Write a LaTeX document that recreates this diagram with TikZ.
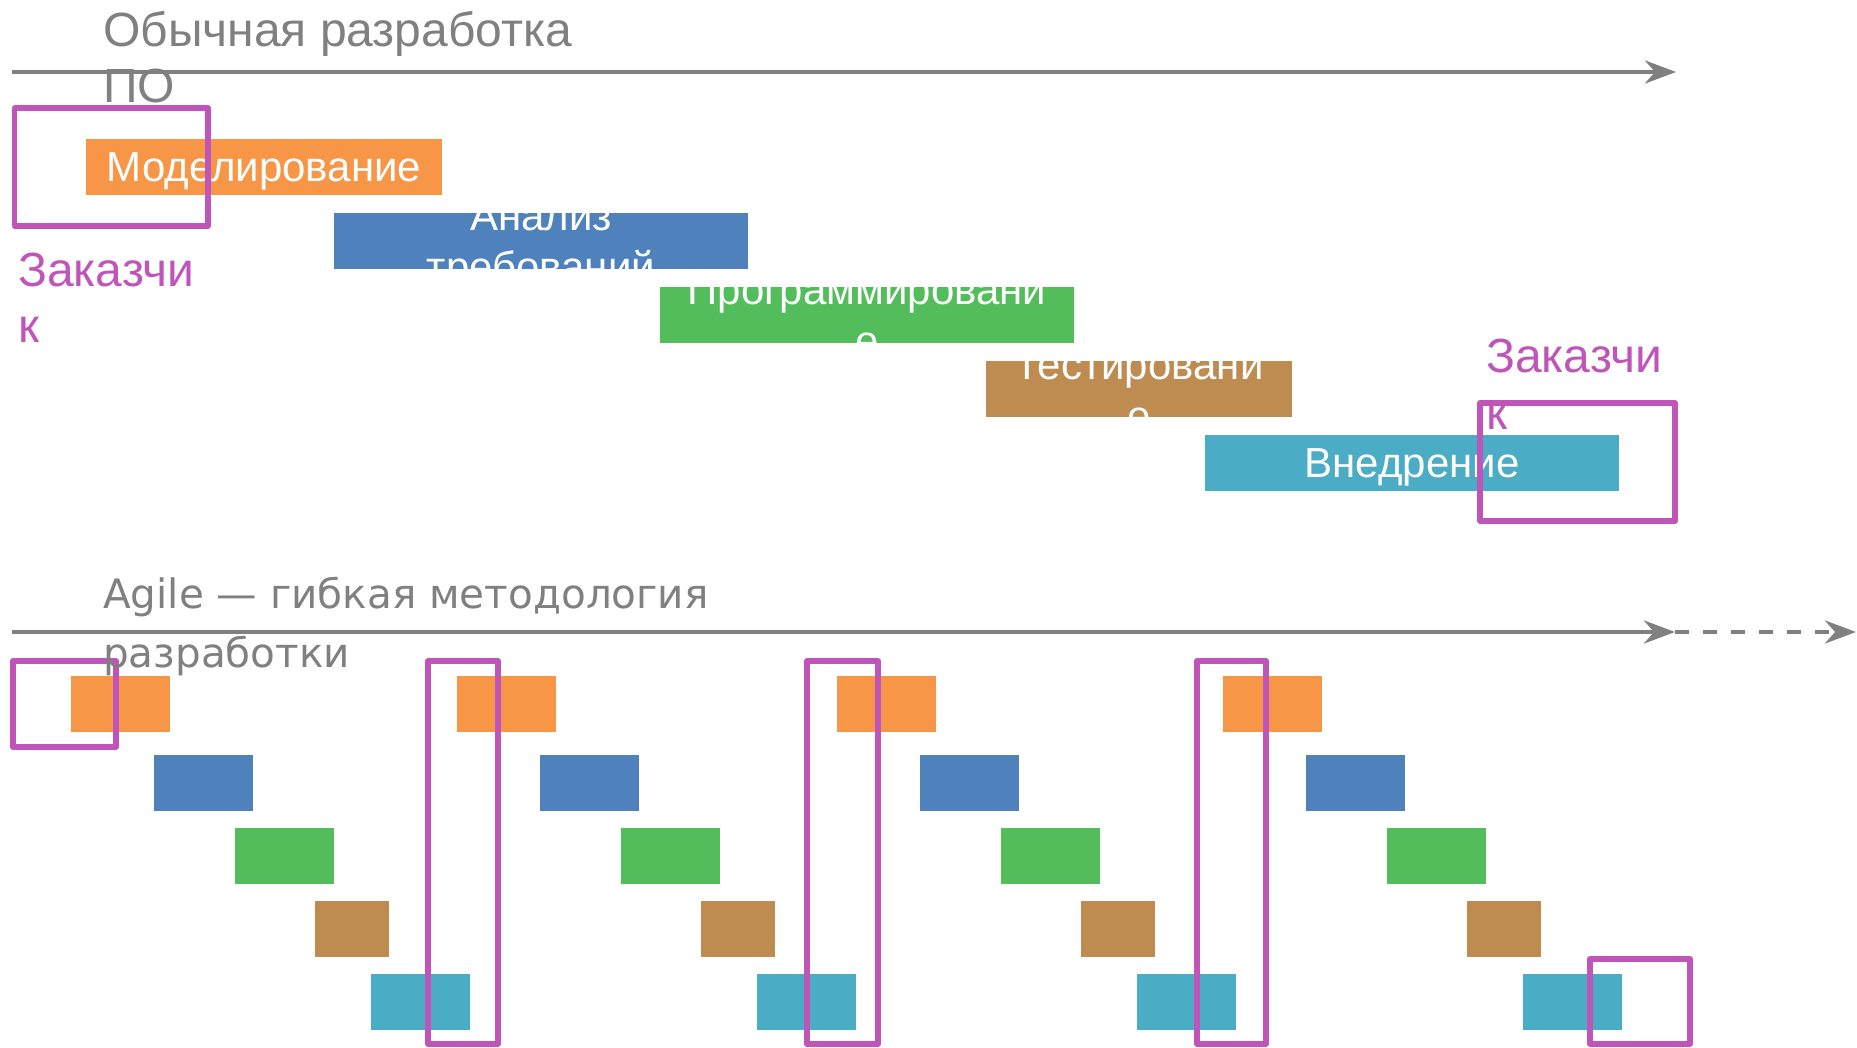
\documentclass[tikz,border=0pt]{standalone}
\usepackage{fontspec}
\setmainfont{Liberation Sans}
\newfontfamily\agilefont{DejaVu Sans}
\usetikzlibrary{arrows.meta,fit}
\definecolor{cgray}{HTML}{808080}
\definecolor{cmag}{HTML}{C055B9}
\definecolor{corange}{HTML}{F79646}
\definecolor{cblue}{HTML}{4F81BD}
\definecolor{cgreen}{HTML}{52BD5A}
\definecolor{cbrown}{HTML}{BE8C51}
\definecolor{ccyan}{HTML}{4BACC6}
\begin{document}
\begin{tikzpicture}[x=1pt,y=-1pt,
  phase/.style={inner sep=0pt, outer sep=0pt, draw=none},
  custbox/.style={draw=cmag, line width=5.2pt, inner sep=0pt, outer sep=0pt, line join=round},
  timeline/.style={draw=cgray, line width=4.3pt, -{Stealth[length=31pt,width=23pt,inset=10pt]}},
  phlabel/.style={text=white, font=\fontsize{42}{51}\selectfont, inner sep=0pt, anchor=base},
  ttl/.style={text=cgray, inner sep=0pt, anchor=base west},
  cust/.style={text=cmag, font=\fontsize{48}{56}\selectfont, inner sep=0pt, anchor=base west}
]
\path[use as bounding box] (0,0) rectangle (1857,1048);

% ---------- traditional process ----------
\node[phase, fill=corange, fit={(86,139) (442,195)}] (mod) {};
\begin{scope}
\clip (mod.north west) rectangle (mod.south east);
\node[phlabel] (modT) at (264,182) {Моделирование};
\end{scope}

\node[phase, fill=cblue, fit={(334,213) (748,269)}] (ana) {};
\begin{scope}
\clip (ana.north west) rectangle (ana.south east);
\node[phlabel] (anaT) at (541,231) {\begin{tabular}[t]{@{}c@{}}Анализ\\требований\end{tabular}};
\end{scope}

\node[phase, fill=cgreen, fit={(660,287) (1074,343)}] (prog) {};
\begin{scope}
\clip (prog.north west) rectangle (prog.south east);
\node[phlabel] (progT) at (867,305) {\begin{tabular}[t]{@{}c@{}}Программировани\\е\end{tabular}};
\end{scope}

\node[phase, fill=cbrown, fit={(986,361) (1292,417)}] (test) {};
\begin{scope}
\clip (test.north west) rectangle (test.south east);
\node[phlabel] (testT) at (1139,379) {\begin{tabular}[t]{@{}c@{}}Тестировани\\е\end{tabular}};
\end{scope}

\node[phase, fill=ccyan, fit={(1205,435) (1619,491)}] (vned) {};
\node[phlabel] (vnedT) at (1412,477) {Внедрение};

\node[custbox, fit={(14.5,108) (208,226)}] (m1) {};
\node[custbox, fit={(1480,403) (1675,521)}] (m2) {};

\node[cust] (c1) at (18,287) {\begin{tabular}[t]{@{}l@{}}Заказчи\\к\end{tabular}};
\node[cust] (c2) at (1486,373) {\begin{tabular}[t]{@{}l@{}}Заказчи\\к\end{tabular}};

\coordinate (t0) at (12,72);
\coordinate (t1) at (1676,72);
\draw[timeline] (t0) -- (t1);
\node[ttl, font=\fontsize{48}{56}\selectfont] (ttop) at (103,47)
  {\begin{tabular}[t]{@{}l@{}}Обычная разработка\\ПО\end{tabular}};

% ---------- agile process ----------
\foreach \o/\k in {0/1,386/2,766/3,1152/4}{
  \node[phase, fill=corange, fit={(71+\o,676) (170+\o,732)}] (o\k) {};
  \node[phase, fill=cblue,   fit={(154+\o,755) (253+\o,811)}] (b\k) {};
  \node[phase, fill=cgreen,  fit={(235+\o,828) (334+\o,884)}] (g\k) {};
  \node[phase, fill=cbrown,  fit={(315+\o,901) (389+\o,957)}] (r\k) {};
  \node[phase, fill=ccyan,   fit={(371+\o,974) (470+\o,1030)}] (c\k) {};
}

\node[custbox, fit={(13,661) (116,747)}] (mb1) {};
\node[custbox, fit={(428,661) (498,1044)}] (mb2) {};
\node[custbox, fit={(807,661) (878,1044)}] (mb3) {};
\node[custbox, fit={(1197,661) (1266,1044)}] (mb4) {};
\node[custbox, fit={(1590,959) (1690,1044)}] (mb5) {};

\coordinate (a0) at (12,632);
\coordinate (a1) at (1675,632);
\coordinate (a2) at (1856,632);
\draw[timeline] (a0) -- (a1);
\draw[timeline, dash pattern=on 14pt off 14pt] (a1) -- (a2);
\node[ttl, font=\agilefont\fontsize{40.5}{59}\selectfont] (tagile) at (103,608)
  {\begin{tabular}[t]{@{}l@{}}Agile — гибкая методология\\разработки\end{tabular}};
\end{tikzpicture}
\end{document}
